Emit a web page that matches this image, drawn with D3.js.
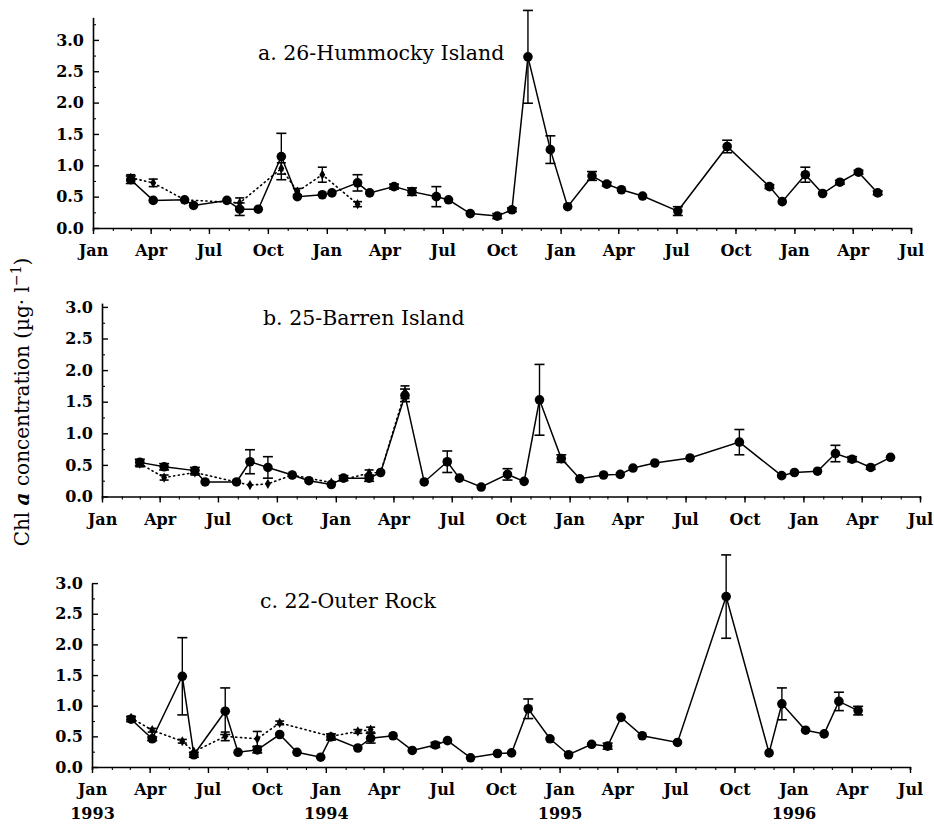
<!DOCTYPE html>
<html><head><meta charset="utf-8">
<script src="https://cdn.jsdelivr.net/npm/d3@7"></script>
<style>
body{margin:0;background:#fff;}
svg{display:block;}
</style></head>
<body>
<svg id="chart" width="934" height="830"></svg>
<script>
// ---------- DATA ----------
const monthTickLabels = ["Jan","Apr","Jul","Oct"];
const yearLabels = ["1993","1994","1995","1996"];
const yTickValues = [0,0.5,1.0,1.5,2.0,2.5,3.0];

// a. 26-Hummocky Island
const aTitle = "a. 26-Hummocky Island";
const aDates = ["1993-03-01","1993-04-05","1993-05-24","1993-06-07","1993-07-29","1993-08-18","1993-09-16","1993-10-22","1993-11-16","1993-12-25","1994-01-09","1994-02-18","1994-03-09","1994-04-16","1994-05-14","1994-06-21","1994-07-10","1994-08-13","1994-09-24","1994-10-17","1994-11-11","1994-12-16","1995-01-12","1995-02-19","1995-03-14","1995-04-06","1995-05-09","1995-07-03","1995-09-18","1995-11-23","1995-12-13","1996-01-18","1996-02-14","1996-03-12","1996-04-10","1996-05-10"];
const aValues = [0.77,0.44,0.45,0.36,0.44,0.30,0.30,1.14,0.50,0.53,0.56,0.72,0.56,0.66,0.58,0.50,0.45,0.23,0.19,0.29,2.73,1.25,0.34,0.83,0.70,0.61,0.51,0.27,1.30,0.66,0.42,0.85,0.55,0.73,0.89,0.56];
const aErrors = [0.06,0,0,0,0,0.10,0,0.37,0,0,0,0.13,0,0.04,0.06,0.16,0,0,0.04,0.03,0.74,0.22,0,0.07,0.03,0,0,0.07,0.10,0.03,0,0.12,0,0.03,0.03,0.03];
const aDotDates = ["1993-03-01","1993-04-05","1993-05-24","1993-08-18","1993-10-22","1993-11-16","1993-12-25","1994-02-18"];
const aDotValues = [0.80,0.72,0.45,0.40,0.95,0.58,0.85,0.38];
const aDotErrors = [0.05,0.06,0,0.08,0.09,0.05,0.12,0.04];

// b. 25-Barren Island
const bTitle = "b. 25-Barren Island";
const bDates = ["1993-03-01","1993-04-08","1993-05-26","1993-06-11","1993-07-30","1993-08-20","1993-09-17","1993-10-25","1993-11-20","1993-12-25","1994-01-13","1994-02-22","1994-03-12","1994-04-19","1994-05-19","1994-06-24","1994-07-13","1994-08-16","1994-09-26","1994-10-22","1994-11-15","1994-12-19","1995-01-17","1995-02-23","1995-03-21","1995-04-10","1995-05-14","1995-07-08","1995-09-23","1995-11-28","1995-12-18","1996-01-23","1996-02-20","1996-03-17","1996-04-15","1996-05-16"];
const bValues = [0.54,0.47,0.41,0.23,0.23,0.55,0.46,0.34,0.25,0.19,0.29,0.29,0.38,1.60,0.23,0.55,0.29,0.15,0.35,0.24,1.53,0.60,0.28,0.34,0.35,0.45,0.53,0.61,0.86,0.33,0.38,0.40,0.68,0.59,0.46,0.62];
const bErrors = [0.05,0.05,0.05,0,0,0.19,0.17,0,0,0,0.04,0.05,0,0.10,0,0.17,0,0,0.09,0,0.56,0.06,0,0,0,0,0,0,0.20,0,0,0,0.13,0.04,0.03,0];
const bDotDates = ["1993-03-01","1993-04-08","1993-05-26","1993-08-20","1993-09-17","1993-10-25","1993-12-25","1994-02-22","1994-03-12","1994-04-19"];
const bDotValues = [0.52,0.30,0.38,0.18,0.20,0.34,0.22,0.37,0.38,1.65];
const bDotErrors = [0.05,0.04,0.04,0,0,0,0,0.05,0,0.10];

// c. 22-Outer Rock
const cTitle = "c. 22-Outer Rock";
const cDates = ["1993-03-03","1993-04-05","1993-05-22","1993-06-09","1993-07-28","1993-08-17","1993-09-16","1993-10-21","1993-11-17","1993-12-24","1994-01-09","1994-02-20","1994-03-12","1994-04-16","1994-05-16","1994-06-21","1994-07-10","1994-08-15","1994-09-26","1994-10-18","1994-11-13","1994-12-17","1995-01-15","1995-02-20","1995-03-17","1995-04-07","1995-05-10","1995-07-04","1995-09-18","1995-11-24","1995-12-14","1996-01-20","1996-02-18","1996-03-12","1996-04-11"];
const cValues = [0.78,0.46,1.48,0.20,0.91,0.24,0.28,0.53,0.24,0.16,0.49,0.31,0.47,0.51,0.27,0.36,0.43,0.15,0.22,0.23,0.95,0.46,0.20,0.37,0.34,0.81,0.51,0.40,2.78,0.23,1.03,0.60,0.54,1.07,0.92];
const cErrors = [0.04,0.03,0.63,0.04,0.38,0,0.05,0,0,0,0.05,0,0.08,0,0,0.04,0,0,0,0,0.16,0,0,0,0.05,0,0,0,0.68,0,0.26,0,0,0.15,0.07];
const cDotDates = ["1993-03-03","1993-04-05","1993-05-22","1993-06-09","1993-07-28","1993-09-16","1993-10-21","1994-01-09","1994-02-20","1994-03-12"];
const cDotValues = [0.80,0.60,0.42,0.25,0.50,0.46,0.72,0.50,0.58,0.61];
const cDotErrors = [0.03,0.03,0.03,0,0.07,0.12,0.03,0,0.03,0.04];

// ---------- DRAW ----------
const parse = d3.timeParse("%Y-%m-%d");
const svg = d3.select("#chart");
const FONT = "'DejaVu Serif', serif";

const panels = [
  {title:aTitle, dates:aDates, vals:aValues, errs:aErrors, dd:aDotDates, dv:aDotValues, de:aDotErrors,
   x0:93, x1:911, y0:228, ppu:62.7, ymax:3.36, titleX:258, titleY:60, years:false},
  {title:bTitle, dates:bDates, vals:bValues, errs:bErrors, dd:bDotDates, dv:bDotValues, de:bDotErrors,
   x0:102, x1:920, y0:496.5, ppu:63.2, ymax:3.06, titleX:263, titleY:325, years:false},
  {title:cTitle, dates:cDates, vals:cValues, errs:cErrors, dd:cDotDates, dv:cDotValues, de:cDotErrors,
   x0:92, x1:910, y0:767, ppu:61.3, ymax:3.0, titleX:260, titleY:608, years:true}
];

const tStart = new Date(1993,0,1), tEnd = new Date(1996,6,1);

panels.forEach(p => {
  const x = d3.scaleTime().domain([tStart,tEnd]).range([p.x0,p.x1]);
  const y = d3.scaleLinear().domain([0,p.ymax]).range([p.y0, p.y0 - p.ymax*p.ppu]);
  const g = svg.append("g");

  // x minor ticks (monthly)
  g.append("g").attr("transform",`translate(0,${p.y0})`)
    .call(d3.axisBottom(x).ticks(d3.timeMonth.every(1)).tickSize(3).tickFormat(""))
    .call(s=>{s.select(".domain").attr("stroke","#000").attr("stroke-width",1.6);
              s.selectAll(".tick line").attr("stroke","#000").attr("stroke-width",1.1);});
  // x major ticks
  const xa = g.append("g").attr("transform",`translate(0,${p.y0})`)
    .call(d3.axisBottom(x).ticks(d3.timeMonth.every(3)).tickSize(6).tickSizeOuter(0).tickPadding(11)
      .tickFormat(d => monthTickLabels[d.getMonth()/3]));
  xa.select(".domain").remove();
  xa.selectAll(".tick line").attr("stroke","#000").attr("stroke-width",1.4);
  xa.selectAll(".tick text").attr("font-family",FONT).attr("font-weight","bold").attr("font-size",16).attr("fill","#000");
  if (p.years) {
    xa.selectAll(".tick").filter(d=>d.getMonth()===0).append("text")
      .attr("y", 52).attr("text-anchor","middle")
      .attr("font-family",FONT).attr("font-weight","bold").attr("font-size",16).attr("fill","#000")
      .text(d => yearLabels[d.getFullYear()-1993]);
  }

  // y minor ticks
  const minorVals = d3.range(0.25, p.ymax, 0.5);
  g.append("g").attr("transform",`translate(${p.x0},0)`)
    .call(d3.axisLeft(y).tickValues(minorVals).tickSizeInner(-3).tickSizeOuter(0).tickFormat(""))
    .call(s=>{s.select(".domain").attr("stroke","#000").attr("stroke-width",1.6);
              s.selectAll(".tick line").attr("stroke","#000").attr("stroke-width",1.1);});
  const ya = g.append("g").attr("transform",`translate(${p.x0},0)`)
    .call(d3.axisLeft(y).tickValues(yTickValues).tickSizeInner(-6).tickSizeOuter(0).tickPadding(9)
      .tickFormat(d3.format(".1f")));
  ya.select(".domain").remove();
  ya.selectAll(".tick line").attr("stroke","#000").attr("stroke-width",1.4);
  ya.selectAll(".tick text").attr("font-family",FONT).attr("font-weight","bold").attr("font-size",16).attr("fill","#000");

  // title
  g.append("text").attr("x",p.titleX).attr("y",p.titleY)
    .attr("font-family",FONT).attr("font-size",20.5).attr("fill","#000").text(p.title);

  const solid = p.dates.map((d,i)=>({t:parse(d), v:p.vals[i], e:p.errs[i]}));
  const dotted = p.dd.map((d,i)=>({t:parse(d), v:p.dv[i], e:p.de[i]}));
  const line = d3.line().x(d=>x(d.t)).y(d=>y(d.v));

  // dotted series
  g.append("path").datum(dotted).attr("d",line).attr("fill","none")
    .attr("stroke","#000").attr("stroke-width",1.6).attr("stroke-dasharray","1.2,3.5").attr("stroke-linecap","round");
  // solid series
  g.append("path").datum(solid).attr("d",line).attr("fill","none")
    .attr("stroke","#000").attr("stroke-width",1.5);

  const drawErr = (data, cap) => {
    const eb = g.append("g").selectAll("g").data(data.filter(d=>d.e>0)).join("g");
    eb.append("line").attr("x1",d=>x(d.t)).attr("x2",d=>x(d.t))
      .attr("y1",d=>y(d.v-d.e)).attr("y2",d=>y(d.v+d.e)).attr("stroke","#000").attr("stroke-width",1.4);
    [1,-1].forEach(s=>{
      eb.append("line").attr("x1",d=>x(d.t)-cap).attr("x2",d=>x(d.t)+cap)
        .attr("y1",d=>y(d.v+s*d.e)).attr("y2",d=>y(d.v+s*d.e)).attr("stroke","#000").attr("stroke-width",1.6);
    });
  };
  drawErr(dotted, 4.5);
  drawErr(solid, 5);

  // dotted markers (small diamonds)
  g.append("g").selectAll("path").data(dotted).join("path")
    .attr("transform",d=>`translate(${x(d.t)},${y(d.v)})`)
    .attr("d", d3.symbol(d3.symbolDiamond, 30)).attr("fill","#000");
  // solid markers
  g.append("g").selectAll("circle").data(solid).join("circle")
    .attr("cx",d=>x(d.t)).attr("cy",d=>y(d.v)).attr("r",4.8).attr("fill","#000");
});

// y-axis title
const yt = svg.append("text").attr("transform","translate(29,402) rotate(-90)")
  .attr("text-anchor","middle").attr("font-family",FONT).attr("font-size",20).attr("fill","#000");
yt.append("tspan").text("Chl ");
yt.append("tspan").attr("font-style","italic").attr("font-weight","bold").text("a");
yt.append("tspan").text(" concentration (µg· l");
yt.append("tspan").attr("dy",-8).attr("font-size",14).text("−1");
yt.append("tspan").attr("dy",8).text(")");
</script>
</body></html>
